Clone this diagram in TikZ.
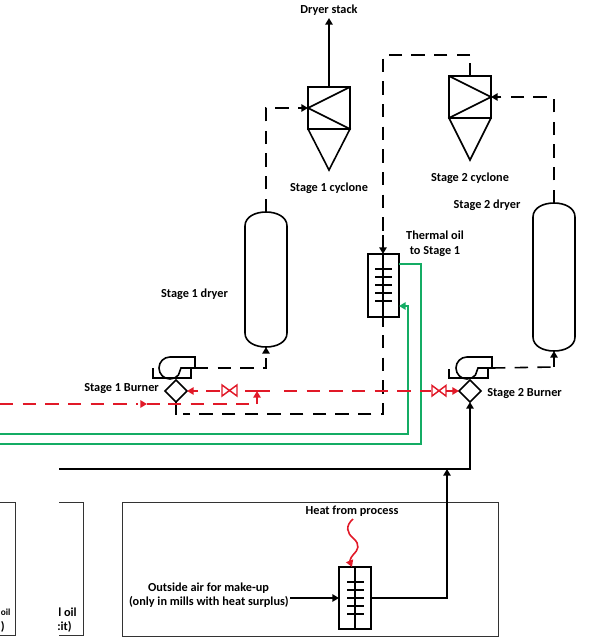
\documentclass[tikz,border=0pt]{standalone}
\usepackage{fontspec}
\setmainfont{Carlito}
\usetikzlibrary{arrows.meta,calc}
\definecolor{pipegreen}{RGB}{20,172,100}
\definecolor{pipered}{RGB}{225,25,40}
\tikzset{
  x=0.75pt,y=-0.75pt,
  equip/.style={draw=black,line width=1.2pt,line join=miter},
  pipe/.style={draw=black,line width=1.2pt},
  gaspipe/.style={pipe,dash pattern=on 10pt off 7pt},
  redpipe/.style={draw=pipered,line width=1.2pt,dash pattern=on 10pt off 7pt},
  redsolid/.style={draw=pipered,line width=1.2pt},
  greenpipe/.style={draw=pipegreen,line width=1.2pt},
  frame/.style={draw=black!80,line width=0.7pt},
  lab/.style={font=\bfseries\fontsize{9.2}{11.4}\selectfont,align=center,inner sep=0pt,text=black},
  tip/.style={-{Triangle[length=5pt,width=5.5pt]}},
  valve/.style={draw=pipered,line width=1.1pt},
}
\begin{document}
\begin{tikzpicture}
\useasboundingbox (0,0) rectangle (596,642);
% named points
\coordinate (stackTop) at (329,18);
\coordinate (cyc1in) at (308,108);
\coordinate (cyc1top) at (329,87);
\coordinate (cyc2in) at (491,97);
\coordinate (cyc2top) at (470,76);
\coordinate (dry1top) at (266,212);
\coordinate (dry1bot) at (266,347);
\coordinate (dry2top) at (554,203);
\coordinate (dry2bot) at (554,351);
\coordinate (fan1out) at (195,368);
\coordinate (fan2out) at (492,368);
\coordinate (bur1) at (176,391);
\coordinate (bur2) at (470,391);
\coordinate (hx1top) at (383,254);
\coordinate (hx1bot) at (383,317);
\coordinate (hx2l) at (339,598);
\coordinate (hx2r) at (371,598);
% frames
\draw[frame] (122,502) rectangle (498,636);
\draw[frame] (0,502) -- (15,502) -- (15,635) -- (0,635);
\draw[frame] (59,502) -- (83,502) -- (83,635) -- (59,635);
% cyclone 1
\draw[equip] (308,87) rectangle (350,129);
\draw[equip] (350,87) -- (308,108) -- (350,129) -- (329,170) -- (308,129);
% cyclone 2
\draw[equip] (449,76) rectangle (491,118);
\draw[equip] (449,76) -- (491,97) -- (449,118) -- (470,160) -- (491,118);
% dryers
\draw[equip] (245,226) .. controls (245,217) and (255,212) .. (266,212) .. controls (277,212) and (287,217) .. (287,226) -- (287,333) .. controls (287,342) and (277,347) .. (266,347) .. controls (255,347) and (245,342) .. (245,333) -- cycle;
\draw[equip] (533,217) .. controls (533,208) and (543,203) .. (554,203) .. controls (565,203) and (575,208) .. (575,217) -- (575,337) .. controls (575,346) and (565,351) .. (554,351) .. controls (543,351) and (533,346) .. (533,337) -- cycle;
% heat exchanger 1
\draw[equip] (368,254) rectangle (399,317);
\foreach \yy in {269,277,285,293,301} \draw[equip] (375,\yy) -- (392,\yy);
% heat exchanger 2
\draw[equip] (339,567) rectangle (371,629);
\draw[equip] (355,567) -- (355,629);
\foreach \yy in {582,590,598,606,614} \draw[equip] (347,\yy) -- (364,\yy);
% fans
\draw[equip] (153,368) -- (153,378) -- (191,378) -- (191,368);
\draw[equip] (195,368) -- (195,357) -- (170,357) arc[start angle=-90,end angle=-320,radius=11] -- (181,368) -- (195,368);
\draw[equip] (449,369) -- (449,378) -- (488,378) -- (488,368);
\draw[equip] (492,368) -- (492,357) -- (467,357) arc[start angle=-90,end angle=-320,radius=11] -- (478,368) -- (492,368);
% diamonds
\draw[equip] (176,380) -- (187,391) -- (176,402) -- (165,391) -- cycle;
\draw[equip] (470,380) -- (481,391) -- (470,402) -- (459,391) -- cycle;
% stack
\draw[pipe,tip] (cyc1top) -- (stackTop);
% gas lines
\draw[gaspipe,tip] (dry1top) -- (266,108) -- (cyc1in);
\draw[gaspipe,tip] (fan1out) -- (266,368) -- (dry1bot);
\draw[gaspipe,tip] (dry2top) -- (554,97) -- (cyc2in);
\draw[gaspipe] (fan2out) -- (554,367);
\draw[pipe,tip] (554,367) -- (dry2bot);
\draw[pipe] (cyc2top) -- (470,63);
\draw[gaspipe] (470,55) -- (383,55) -- (383,235);
\draw[pipe,tip] (383,235) -- (hx1top);
\draw[pipe] (hx1top) -- (hx1bot) -- (383,327);
\draw[gaspipe] (383,335) -- (383,414) -- (183,414);
\draw[pipe] (176,402) -- (176,415);
% green
\draw[greenpipe,tip] (0,434) -- (408,434) -- (408,306) -- (399,306);
\draw[greenpipe] (0,444) -- (421,444) -- (421,264) -- (399,264);
% black air
\draw[pipe,tip] (59,469) -- (470,469) -- (470,402);
\draw[pipe,tip] (hx2r) -- (447,598) -- (447,469);
\draw[pipe,tip] (290,598) -- (hx2l);
% red lines
\draw[redpipe] (0,404) -- (138,404);
\draw[redsolid,tip] (141,404) -- (147,404);
\draw[redsolid] (147,404) -- (160,404);
\draw[redpipe] (168,404) -- (250,404);
\draw[redsolid,tip] (257,404) -- (257,391);
\draw[redsolid] (245,391) -- (270,391);
\draw[redpipe] (284,391) -- (431,391);
\draw[redsolid,tip] (198,391) -- (187,391);
\draw[redsolid] (206,391) -- (220,391);
\draw[redsolid,tip] (446,391) -- (459,391);
% valves
\draw[valve] (222,385) -- (237,396) -- (237,385) -- (222,396) -- cycle;
\draw[valve] (432,385.5) -- (446,396) -- (446,385.5) -- (432,396) -- cycle;
% heat squiggle
\draw[redsolid,tip] (353,519) .. controls (345,526) and (347,533) .. (353,538) .. controls (361,545) and (358,550) .. (353,555) .. controls (350,558) and (350,562) .. (352,567);
% labels
\node[lab] (l1) at (329,10) {Dryer stack};
\node[lab] (l2) at (329,188.5) {Stage 1 cyclone};
\node[lab] (l3) at (470,178) {Stage 2 cyclone};
\node[lab] (l4) at (487,205.5) {Stage 2 dryer};
\node[lab] (l5) at (435,244) {Thermal oil\\to Stage 1};
\node[lab] (l6) at (194.5,294.5) {Stage 1 dryer};
\node[lab,anchor=west] (l7) at (84,388.5) {Stage 1 Burner};
\node[lab,anchor=west] (l8) at (487,394) {Stage 2 Burner};
\node[lab] (l9) at (352,511.5) {Heat from process};
\node[lab] (l10) at (208.5,588) {Outside air for make-up};
\node[lab,anchor=east] (l11) at (289,602) {(only in mills with heat surplus)};
\node[lab,anchor=west,font=\bfseries\fontsize{7}{9}\selectfont] (l12) at (0.5,612) {oil};
\node[lab,anchor=west] (l13) at (0.5,627) {)};
\node[lab,anchor=east] (l14) at (77,612) {l oil};
\node[lab,anchor=east] (l15) at (72,627) {:it)};
\end{tikzpicture}
\end{document}
